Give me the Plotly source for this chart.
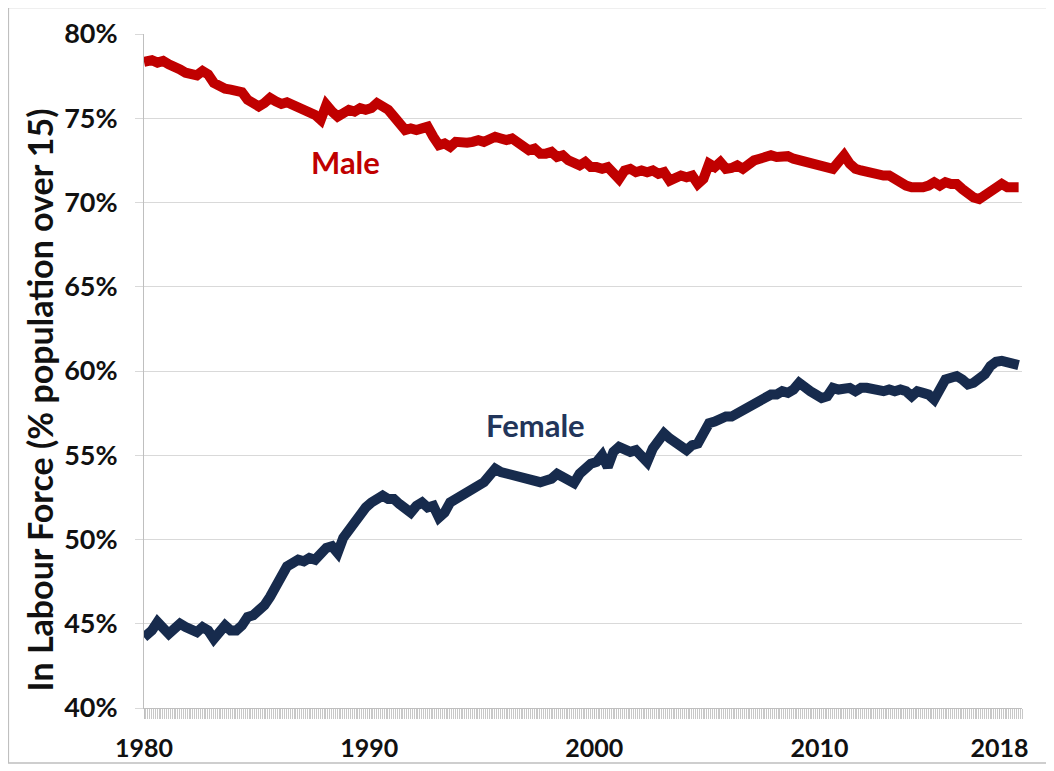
import plotly.graph_objects as go

# Quarterly readings, 1980 Q1 .. 2018 Q4 (values in %)
start_year = 1980
male = [
    78.35, 78.45, 78.3, 78.4,
    78.2, 78.1, 77.9, 77.7,
    77.6, 77.55, 77.8, 77.6,
    77.1, 76.9, 76.75, 76.7,
    76.6, 76.55, 76.1, 75.9,
    75.7, 75.9, 76.2, 76.0,
    75.85, 75.95, 75.8, 75.7,
    75.6, 75.5, 75.2, 74.9,
    75.8, 75.4, 75.1, 75.3,
    75.5, 75.4, 75.6, 75.5,
    75.6, 75.9, 75.7, 75.5,
    75.1, 74.7, 74.3, 74.4,
    74.3, 74.4, 74.5, 73.9,
    73.4, 73.5, 73.3, 73.6,
    73.5, 73.55, 73.6, 73.7,
    73.6, 73.75, 73.9, 73.8,
    73.7, 73.8, 73.5, 73.3,
    73.1, 73.2, 72.9, 72.9,
    73.0, 72.7, 72.8, 72.5,
    72.3, 72.2, 72.4, 72.1,
    72.1, 72.0, 72.1, 71.8,
    71.4, 71.9, 72.0, 71.8,
    71.9, 71.8, 71.9, 71.7,
    71.8, 71.3, 71.5, 71.6,
    71.5, 71.6, 71.1, 71.4,
    72.3, 72.1, 72.4, 72.0,
    72.05, 72.2, 72.0, 72.3,
    72.5, 72.6, 72.7, 72.8,
    72.7, 72.8, 72.75, 72.6,
    72.5, 72.4, 72.3, 72.2,
    72.2, 72.1, 72.0, 72.4,
    72.8, 72.3, 72.0, 71.9,
    71.8, 71.7, 71.75, 71.6,
    71.6, 71.4, 71.1, 71.0,
    70.9, 70.85, 70.9, 71.0,
    71.2, 71.0, 71.2, 71.1,
    71.1, 70.8, 70.5, 70.3,
    70.2, 70.4, 70.6, 70.9,
    71.1, 70.9, 70.95, 70.9,
]
female = [
    44.2, 44.6, 45.1, 44.8,
    44.4, 44.7, 45.0, 44.8,
    44.7, 44.5, 44.8, 44.6,
    44.1, 44.6, 44.9, 44.6,
    44.6, 44.9, 45.4, 45.5,
    45.8, 46.1, 46.6, 47.2,
    47.8, 48.4, 48.6, 48.8,
    48.7, 48.9, 48.8, 49.2,
    49.5, 49.6, 49.2, 50.1,
    50.6, 51.0, 51.5, 51.9,
    52.2, 52.4, 52.6, 52.4,
    52.4, 52.1, 51.9, 51.6,
    52.0, 52.2, 51.9, 52.0,
    51.3, 51.6, 52.2, 52.4,
    52.5, 52.8, 53.0, 53.1,
    53.4, 53.8, 54.2, 54.0,
    53.9, 53.8, 53.7, 53.6,
    53.6, 53.5, 53.4, 53.5,
    53.6, 53.9, 53.7, 53.4,
    53.35, 53.9, 54.3, 54.5,
    54.6, 55.0, 54.3, 55.2,
    55.5, 55.4, 55.2, 55.3,
    54.9, 54.6, 55.4, 55.9,
    56.3, 56.0, 55.8, 55.5,
    55.3, 55.6, 55.7, 56.3,
    56.9, 57.0, 57.2, 57.3,
    57.3, 57.5, 57.6, 57.9,
    58.0, 58.2, 58.5, 58.6,
    58.6, 58.8, 58.7, 58.9,
    59.3, 59.0, 58.8, 58.6,
    58.4, 58.5, 59.0, 58.9,
    58.9, 59.0, 58.8, 59.0,
    59.0, 58.9, 58.8, 58.8,
    58.9, 58.8, 58.9, 58.8,
    58.5, 58.8, 58.7, 58.6,
    58.3, 58.9, 59.5, 59.6,
    59.7, 59.5, 59.2, 59.3,
    59.5, 59.8, 60.3, 60.55,
    60.6, 60.5, 60.4, 60.35,
]
x_tick_years = [1980, 1990, 2000, 2010, 2018]
y_ticks = [40, 45, 50, 55, 60, 65, 70, 75, 80]
y_tick_labels = [f"{v}%" for v in y_ticks]
y_title = "In Labour Force (% population over 15)"

years = [start_year + 0.25 * i + 0.1 for i in range(len(male))]
years[0] = start_year

RED = "#C00000"
NAVY = "#172B4D"
GRID = "#D9D9D9"
FONT = "Lato"

fig = go.Figure()
fig.add_trace(go.Scatter(x=years, y=male, mode="lines",
                         line=dict(color=RED, width=10, shape="linear"),
                         hoverinfo="skip", showlegend=False))
fig.add_trace(go.Scatter(x=years, y=female, mode="lines",
                         line=dict(color=NAVY, width=10, shape="linear"),
                         hoverinfo="skip", showlegend=False))

fig.add_annotation(x=1988.93, y=72.4, text="<b>Male</b>", showarrow=False,
                   font=dict(family=FONT, size=31, color=RED))
fig.add_annotation(x=1997.37, y=56.8, text="<b>Female</b>", showarrow=False,
                   font=dict(family=FONT, size=31, color="#22355A"))

# rotated y-axis title
fig.add_annotation(xref="paper", yref="paper", x=-0.118, y=0.457,
                   xanchor="center", yanchor="middle",
                   text=f"<b>{y_title}</b>", textangle=-90, showarrow=False,
                   font=dict(family=FONT, size=34, color="#111111"))

# outer chart border
fig.add_shape(type="rect", xref="paper", yref="paper",
              x0=-0.1545, x1=1.0285, y0=-0.0816, y1=1.0395,
              line=dict(color="#BFBFBF", width=1.5), layer="below")

fig.update_layout(
    width=1046, height=763,
    margin=dict(l=136, r=32, t=26, b=63),
    paper_bgcolor="white", plot_bgcolor="white",
    font=dict(family=FONT, color="#111111"),
    xaxis=dict(
        range=[1980, 2019.0], automargin=False,
        tickmode="array", tickvals=x_tick_years,
        ticktext=[str(v) for v in x_tick_years],
        ticks="outside", ticklen=10, tickcolor="#BFBFBF", tickwidth=1,
        showgrid=False, zeroline=False,
        showline=True, linecolor="#BFBFBF", linewidth=1,
        tickfont=dict(family=FONT, size=25, color="#111111", weight="bold"),
        ticklabelstandoff=8,
        minor=dict(tickmode="linear", tick0=1980, dtick=1 / 12,
                   ticks="outside", ticklen=10, tickcolor="#C8C8C8",
                   tickwidth=1, showgrid=False),
    ),
    yaxis=dict(
        range=[40, 80], automargin=False,
        tickmode="array", tickvals=y_ticks, ticktext=y_tick_labels,
        ticks="outside", ticklen=8, tickcolor=GRID,
        showgrid=True, gridcolor=GRID, gridwidth=1,
        zeroline=False, showline=True, linecolor="#BFBFBF", linewidth=1,
        tickfont=dict(family=FONT, size=27, color="#111111", weight="bold"),
        ticklabelstandoff=12,
    ),
)

fig.write_html("out.html")
